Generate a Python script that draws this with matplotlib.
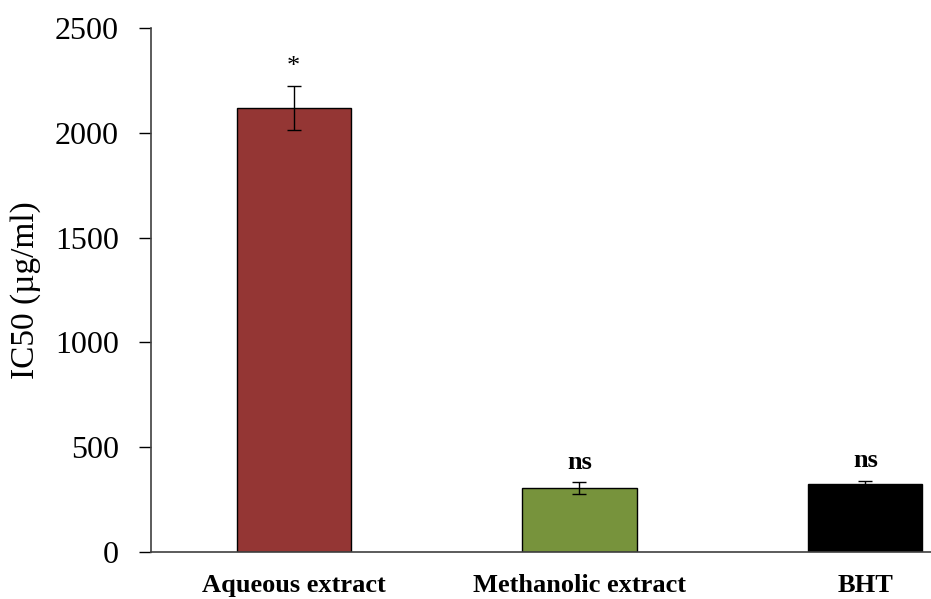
import matplotlib
matplotlib.use('Agg')
import matplotlib.pyplot as plt

# IC50 values per sample with their standard errors
categories = ['Aqueous extract', 'Methanolic extract', 'BHT']
ic50 = [2120, 305, 325]
errors = [105, 28, 15]
signif = ['*', 'ns', 'ns']
bar_colors = ['#943634', '#77933C', '#000000']

plt.rcParams['font.family'] = ['Liberation Serif', 'DejaVu Serif']

fig = plt.figure(figsize=(9.31, 5.99), dpi=100)
ax = fig.add_axes([0.162, 0.0785, 0.838, 0.8745])

x = list(range(len(categories)))
ax.bar(x, ic50, width=0.40, color=bar_colors, edgecolor='black', linewidth=1.0, zorder=2)
ax.errorbar(x, ic50, yerr=errors, fmt='none', ecolor='black', elinewidth=1.0,
            capsize=5, capthick=1.0, zorder=3)

# significance marks above each error bar
for xi, v, e, s in zip(x, ic50, errors, signif):
    if s == '*':
        ax.text(xi, v + e + 35, s, ha='center', va='bottom', fontsize=19)
    else:
        ax.text(xi, v + e + 40, s, ha='center', va='bottom', fontsize=19, weight='bold')

ax.set_xlim(-0.5, 2.23)
ax.set_ylim(0, 2500)
ax.set_yticks([0, 500, 1000, 1500, 2000, 2500])
ax.set_xticks(x)
ax.set_xticklabels(categories, fontsize=19, weight='bold')
ax.tick_params(axis='x', length=0, pad=16)
ax.tick_params(axis='y', labelsize=23, length=9, width=1.0, direction='out', pad=14)
ax.set_ylabel('IC50 (µg/ml)', fontsize=24, labelpad=10)

for side in ['top', 'right']:
    ax.spines[side].set_visible(False)
for side in ['left', 'bottom']:
    ax.spines[side].set_color('#404040')
    ax.spines[side].set_linewidth(1.2)

fig.savefig('out.png', dpi=100, facecolor='white')
